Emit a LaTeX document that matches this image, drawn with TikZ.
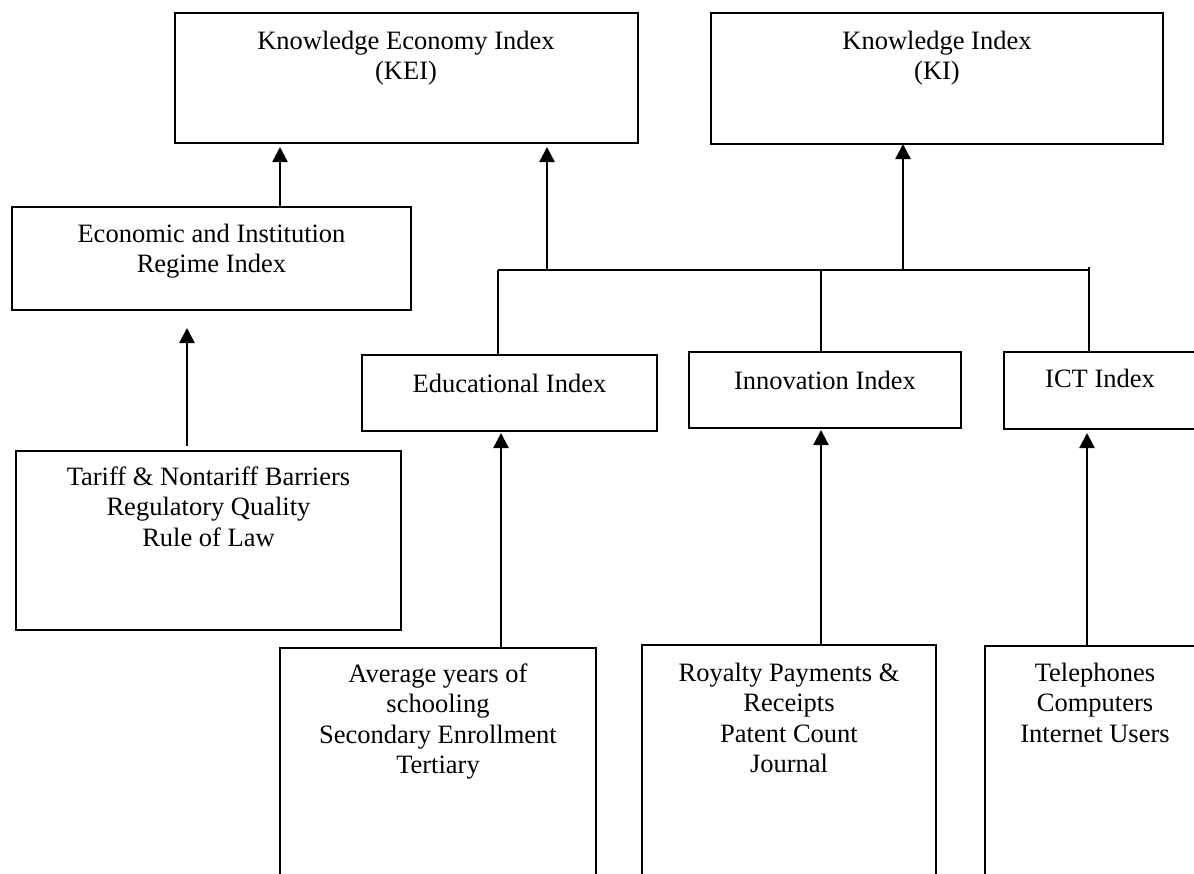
\documentclass[tikz,border=0pt]{standalone}
\usepackage{fontspec}
\setmainfont{Liberation Serif}
\usetikzlibrary{arrows.meta}
\begin{document}
\begin{tikzpicture}[x=1pt,y=-1pt,
  box/.style={draw, line width=2pt, inner sep=0pt, outer sep=0pt, anchor=north west},
  lbl/.style={anchor=base, align=center, inner sep=0pt, font=\fontsize{26.5}{30.5}\selectfont},
  link/.style={line width=1.8pt},
  arr/.style={line width=2.4pt, -{Triangle[width=15pt,length=15pt]}}]
\useasboundingbox (0,0) rectangle (1194,873);
\clip (0,0) rectangle (1194,873);

% index boxes
\node[box, minimum width=463pt, minimum height=130pt] (kei)    at (175,13)  {};
\node[box, minimum width=452pt, minimum height=131pt] (ki)     at (711,13)  {};
\node[box, minimum width=399pt, minimum height=103pt] (econ)   at (12,207)  {};
\node[box, minimum width=385pt, minimum height=179pt] (tariff) at (16,451)  {};
\node[box, minimum width=295pt, minimum height=76pt]  (edu)    at (362,355) {};
\node[box, minimum width=272pt, minimum height=76pt]  (inno)   at (689,352) {};
\node[box, minimum width=196pt, minimum height=77pt]  (ict)    at (1004,352) {};
\node[box, minimum width=316pt, minimum height=260pt] (avg)    at (280,648) {};
\node[box, minimum width=294pt, minimum height=260pt] (roy)    at (642,645) {};
\node[box, minimum width=225pt, minimum height=260pt] (tel)    at (985,646) {};

% box texts (placed by the baseline of their last line)
\node[lbl] (keiT)    at (406,79.5)   {Knowledge Economy Index\\(KEI)};
\node[lbl] (kiT)     at (937,79.5)   {Knowledge Index\\(KI)};
\node[lbl] (econT)   at (211.5,272.5) {Economic and Institution\\Regime Index};
\node[lbl] (tariffT) at (208.5,546)  {Tariff \& Nontariff Barriers\\Regulatory Quality\\Rule of Law};
\node[lbl] (eduT)    at (509.5,392)  {Educational Index};
\node[lbl] (innoT)   at (825,389)    {Innovation Index};
\node[lbl] (ictT)    at (1100,387)   {ICT Index};
\node[lbl] (avgT)    at (438,773.5)  {Average years of\\schooling\\Secondary Enrollment\\Tertiary};
\node[lbl] (royT)    at (789,772.5)  {Royalty Payments \&\\Receipts\\Patent Count\\Journal};
\node[lbl] (telT)    at (1095,742)   {Telephones\\Computers\\Internet Users};

% bus joining the three sub-indices
\coordinate (busL) at (498,270);
\coordinate (busR) at (1088,270);
\draw[link] (busL) -- (busR);
\draw[link] (busL) -- (busL |- edu.north);
\draw[link] ([xshift=-4pt]inno.north) -- ([xshift=-4pt]inno.north |- busL);
\draw[link] ([xshift=-13pt]ict.north) -- ([xshift=-13pt,yshift=3pt]ict.north |- busR);

% arrows
\draw[arr, shorten >=4pt] ([xshift=49pt]busL) -- ([xshift=49pt]busL |- kei.south);
\draw[arr] ([xshift=-34pt]ki.south |- busL) -- ([xshift=-34pt]ki.south);
\draw[arr, shorten >=4pt] ([xshift=68.5pt]econ.north) -- ([xshift=68.5pt]econ.north |- kei.south);
\draw[arr, shorten <=5pt, shorten >=18pt] ([xshift=-21.5pt]tariff.north) -- ([xshift=-21.5pt]tariff.north |- econ.south);
\draw[arr, shorten >=2pt] ([xshift=63pt]avg.north) -- ([xshift=63pt]avg.north |- edu.south);
\draw[arr, shorten >=2pt] ([xshift=32pt]roy.north) -- ([xshift=32pt]roy.north |- inno.south);
\draw[arr, shorten >=4pt] ([xshift=-10.5pt]tel.north) -- ([xshift=-10.5pt]tel.north |- ict.south);
\end{tikzpicture}
\end{document}
